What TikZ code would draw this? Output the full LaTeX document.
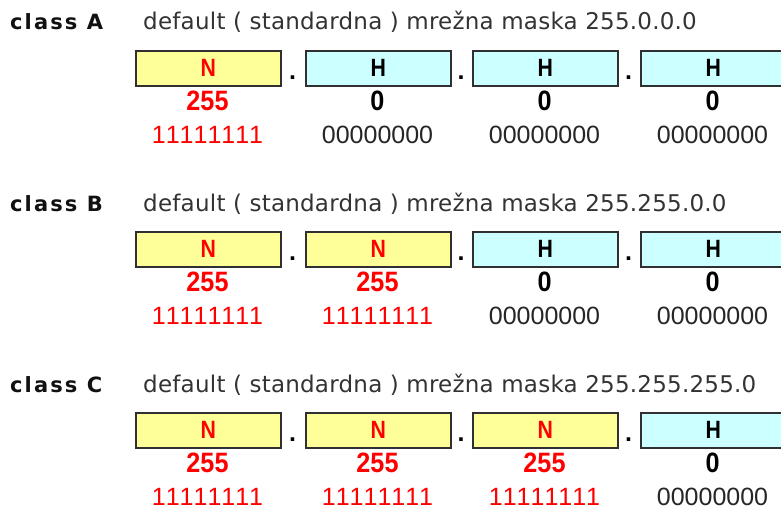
\documentclass[tikz,border=0pt]{standalone}
\usepackage{fontspec}
\setmainfont{Liberation Sans}
\newfontfamily\clsfont[LetterSpace=10]{DejaVu Sans}
\newfontfamily\hdrfont[LetterSpace=1]{DejaVu Sans}
\newfontfamily\numfont{Liberation Sans}
\usetikzlibrary{calc}
\definecolor{yel}{HTML}{FFFF99}
\definecolor{cya}{HTML}{CCFFFF}
\definecolor{bdr}{HTML}{303030}
\definecolor{txt}{HTML}{333333}
\definecolor{clstxt}{HTML}{111111}
\newcommand{\lettr}[1]{\scalebox{0.85}[1]{#1}}
\newcommand{\bnum}[1]{\scalebox{0.9}[1]{#1}}
\newcommand{\dg}[1]{\makebox[13.9pt]{#1}}
\newcommand{\ones}{\dg1\dg1\dg1\dg1\dg1\dg1\dg1\dg1}
\newcommand{\zeros}{\dg0\dg0\dg0\dg0\dg0\dg0\dg0\dg0}
\tikzset{
  cell/.style={draw=bdr, line width=1.6pt, minimum width=145pt, minimum height=35pt,
    inner sep=0pt, anchor=north west, font=\numfont\fontsize{25}{25}\selectfont\bfseries},
  ncell/.style={cell, fill=yel, text=red},
  hcell/.style={cell, fill=cya, text=black},
  numtxt/.style={anchor=base, inner sep=0pt, font=\numfont\fontsize{28}{28}\selectfont\bfseries},
  bintxt/.style={anchor=base, inner sep=0pt, font=\numfont\fontsize{25}{25}\selectfont},
  clstyle/.style={anchor=base west, inner sep=0pt, text=clstxt, font=\clsfont\fontsize{21}{21}\selectfont\bfseries},
  hdrstyle/.style={anchor=base west, inner sep=0pt, text=txt, font=\hdrfont\fontsize{23}{23}\selectfont},
  dotstyle/.style={anchor=base, inner sep=0pt, text=black, font=\numfont\fontsize{25}{25}\selectfont\bfseries}
}
\begin{document}
\begin{tikzpicture}[x=1pt,y=-1pt]
\fill[white] (0,0) rectangle (781,511);
\useasboundingbox (0,0) rectangle (781,511);
\clip (0,0) rectangle (781,511);
\foreach \r/\off/\mask/\nn in {A/0/255.0.0.0/1, B/181/255.255.0.0/2, C/362/255.255.255.0/3} {
  \node[clstyle] (cls\r) at (10,30+\off) {class \r};
  \node[hdrstyle] (hdr\r) at (143,30+\off) {default ( standardna ) mrežna maska \mask};
  \foreach \c/\x in {1/135, 2/305, 3/472, 4/640} {
    \ifnum\c>\nn
      \node[hcell] (b\r\c) at (\x,50+\off) {\lettr{H}};
      \node[numtxt, text=black] (v\r\c) at (\x+72.5,110+\off) {\bnum{0}};
      \node[bintxt, text=black!85] (d\r\c) at (\x+72.5,143+\off) {\zeros};
    \else
      \node[ncell] (b\r\c) at (\x,50+\off) {\lettr{N}};
      \node[numtxt, text=red] (v\r\c) at (\x+72.5,110+\off) {\bnum{255}};
      \node[bintxt, text=red] (d\r\c) at (\x+72.5,143+\off) {\ones};
    \fi
  }
  \foreach \c/\x in {1/292.5, 2/461, 3/628.5} {
    \node[dotstyle] (p\r\c) at (\x,79+\off) {.};
  }
}
\end{tikzpicture}
\end{document}
